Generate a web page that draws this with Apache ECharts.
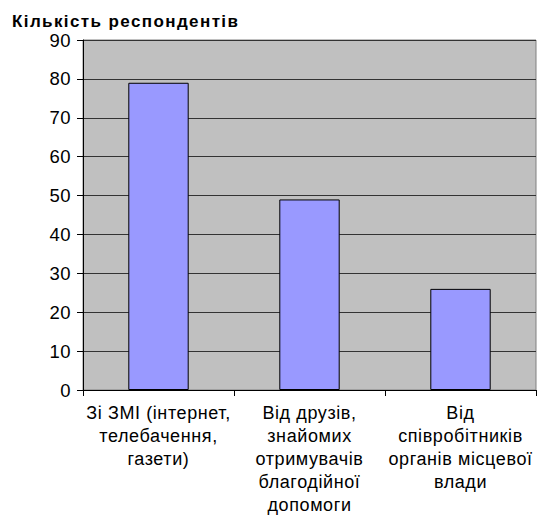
<!DOCTYPE html>
<html><head><meta charset="utf-8">
<script src="https://cdn.jsdelivr.net/npm/echarts@6/dist/echarts.min.js"></script>
<style>html,body{margin:0;padding:0;background:#fff}#c{width:543px;height:527px}</style>
</head><body><div id="c"></div>
<script>
const categories = [
  "Зі ЗМІ (інтернет,\nтелебачення,\nгазети)",
  "Від друзів,\nзнайомих\nотримувачів\nблагодійної\nдопомоги",
  "Від\nспівробітників\nорганів місцевої\nвлади"
];
const values = [79, 49, 26];
const yTicks = { min: 0, max: 90, interval: 10 };
const titleText = "Кількість респондентів";

const FONT = '"Liberation Sans", Arial, sans-serif';
const chart = echarts.init(document.getElementById('c'), null, {renderer: 'svg'});
chart.setOption({
  animation: false,
  backgroundColor: '#ffffff',
  title: {
    text: titleText, left: 7, top: 8,
    textStyle: { fontFamily: FONT, fontWeight: 'bold', fontSize: 17, color: '#000' }
  },
  grid: {
    left: 83, right: 7, top: 40, bottom: 137,
    show: true, backgroundColor: '#c0c0c0', borderColor: '#808080', borderWidth: 1
  },
  xAxis: {
    type: 'category', data: categories,
    axisLine: { lineStyle: { color: '#000', width: 1 } },
    axisTick: { show: true, length: 6, alignWithLabel: false, lineStyle: { color: '#000' } },
    axisLabel: {
      interval: 0, margin: 11, color: '#000',
      fontFamily: FONT, fontSize: 18, lineHeight: 23, align: 'center'
    },
    splitLine: { show: false }
  },
  yAxis: {
    type: 'value', min: yTicks.min, max: yTicks.max, interval: yTicks.interval,
    axisLine: { show: true, lineStyle: { color: '#000', width: 1 } },
    axisTick: { show: true, length: 6, lineStyle: { color: '#000' } },
    axisLabel: { margin: 12, color: '#000', fontFamily: FONT, fontSize: 18.5 },
    splitLine: { show: true, lineStyle: { color: '#333', width: 1 } }
  },
  series: [{
    type: 'bar', data: values, barWidth: '40%',
    itemStyle: { color: '#9999ff', borderColor: '#000', borderWidth: 1 }
  }]
});

// slightly widen text spacing to mimic the reference's wide glyph rendering
function spaceText() {
  document.querySelectorAll('#c svg text').forEach(t => {
    const fs = parseFloat(getComputedStyle(t).fontSize);
    let ls = 0.6;
    if (fs === 17) ls = 1.4;
    else if (fs === 18.5) ls = 0.5;
    t.style.letterSpacing = ls + 'px';
  });
}
spaceText();
chart.on('finished', spaceText);
</script></body></html>
